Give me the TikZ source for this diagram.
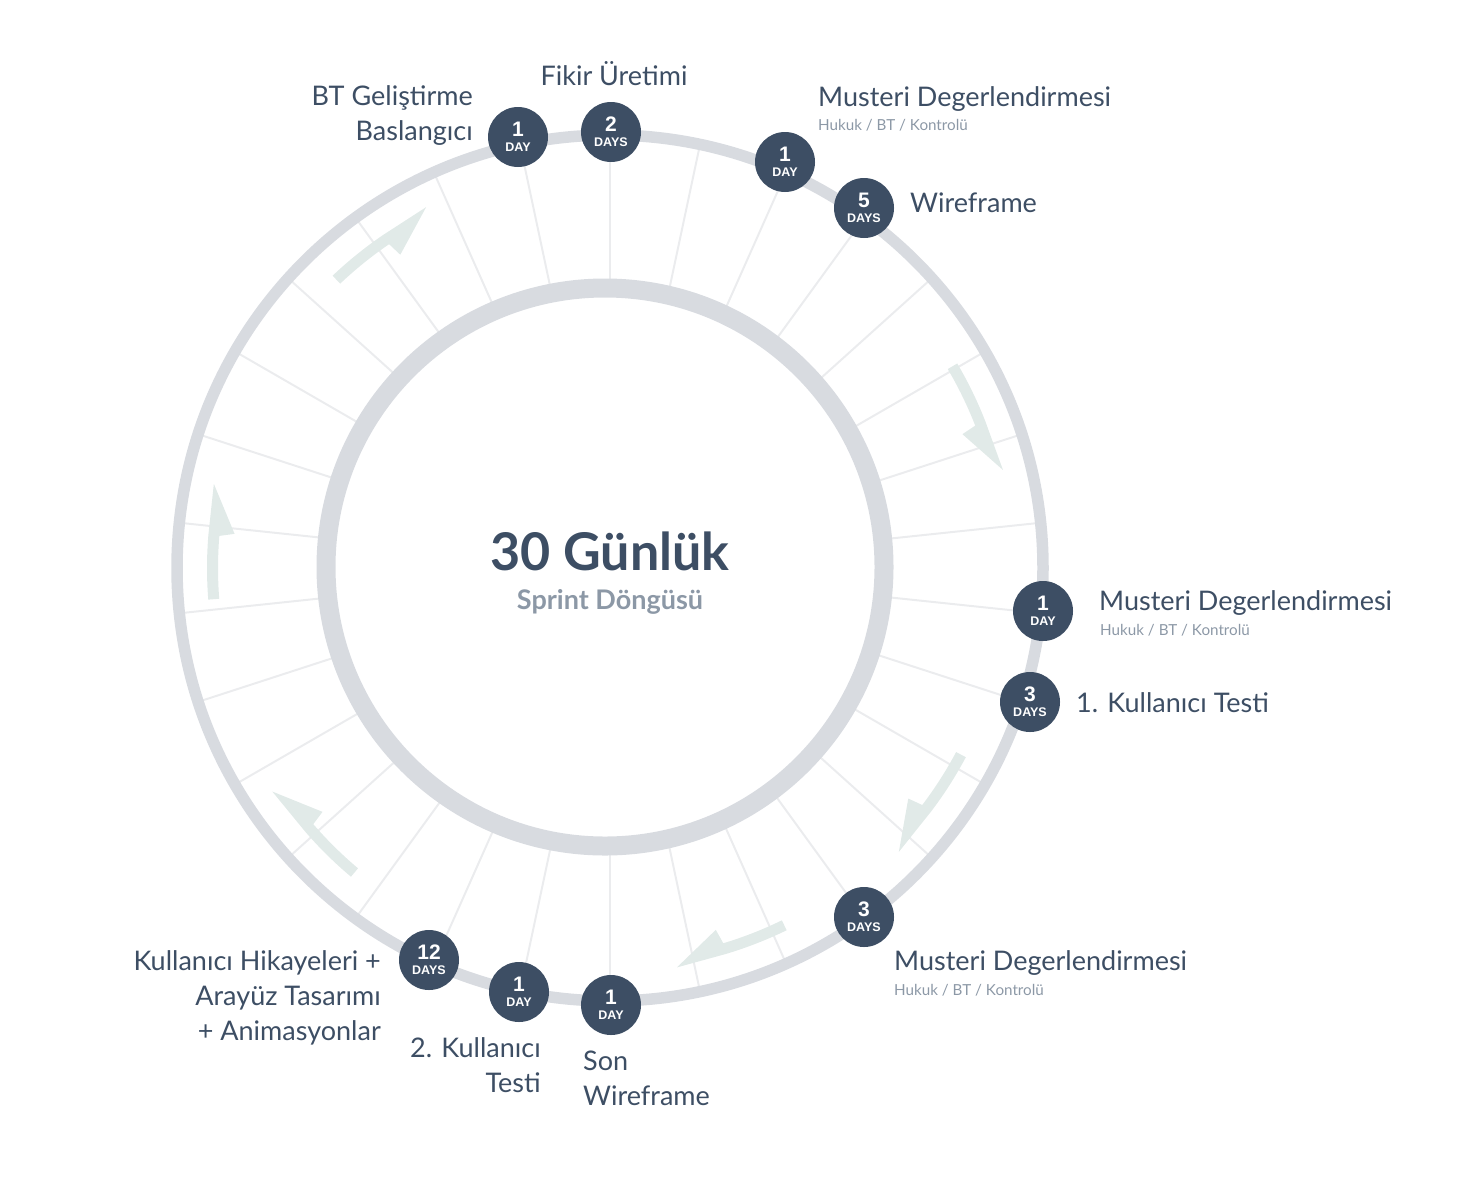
\documentclass[tikz,border=0pt]{standalone}
\usepackage{fontspec}
\setmainfont{Lato}
\newfontfamily\badgefont{Liberation Sans}
\begin{document}
\begin{tikzpicture}[yscale=-1, x=1pt, y=1pt, line join=round, line cap=round]
% colour definitions
\definecolor{navy}{HTML}{3D4E64}
\definecolor{ringgrey}{HTML}{D8DBE0}
\definecolor{spokegrey}{HTML}{EBECEE}
\definecolor{flowgreen}{HTML}{E1EAE8}
\definecolor{subgrey}{HTML}{8C98A6}
% end of colour definitions
\tikzset{
  badge/.style={circle, fill=navy, minimum size=60pt, inner sep=0pt, text=white, align=center,
    font=\badgefont\bfseries\fontsize{12.5}{15}\selectfont},
  phase/.style={text=navy, inner sep=0pt, font=\fontsize{27}{35}\selectfont},
  phasenote/.style={text=subgrey, inner sep=0pt, font=\fontsize{15.2}{18}\selectfont},
}
\useasboundingbox (0,0) rectangle (1463,1176);
\coordinate (hub) at (610,568);
% spokes and flow arrows, math angles round the hub
\begin{scope}[shift={(hub)}, yscale=-1]
\foreach \i in {0,...,29}
  \draw[spokegrey, line width=2pt] (90+12*\i:280) -- (90+12*\i:428);
\end{scope}
% rings
\draw[ringgrey, line width=11.5pt] (hub) circle [radius=433];
\draw[ringgrey, line width=19pt] (605,567) circle [radius=279];
\begin{scope}[shift={(hub)}, yscale=-1]
\foreach \s in {133.5, 30.5, -28, -64, -130, 184.5}
  \fill[flowgreen] (\s:392) arc[start angle=\s, end angle=\s-9.2, radius=392]
    -- (\s-9.7:377) -- (\s-16.5:405) -- (\s-9.2:403)
    arc[start angle=\s-9.2, end angle=\s, radius=403] -- cycle;
\end{scope}
% day badges
\node[badge] (btday) at (518,137) {{\fontsize{21}{15}\selectfont 1}\\DAY};
\node[badge] (ideaday) at (611,132) {{\fontsize{21}{15}\selectfont 2}\\DAYS};
\node[badge] (reviewaday) at (785,162) {{\fontsize{21}{15}\selectfont 1}\\DAY};
\node[badge] (wireday) at (864,208) {{\fontsize{21}{15}\selectfont 5}\\DAYS};
\node[badge] (reviewbday) at (1043,611) {{\fontsize{21}{15}\selectfont 1}\\DAY};
\node[badge] (testaday) at (1030,702) {{\fontsize{21}{15}\selectfont 3}\\DAYS};
\node[badge] (reviewcday) at (864,917) {{\fontsize{21}{15}\selectfont 3}\\DAYS};
\node[badge] (finalday) at (611,1005) {{\fontsize{21}{15}\selectfont 1}\\DAY};
\node[badge] (testbday) at (519,992) {{\fontsize{21}{15}\selectfont 1}\\DAY};
\node[badge] (storyday) at (429,960) {{\fontsize{21}{15}\selectfont 12}\\DAYS};
% phase labels (base of a wrapped label = its last line)
\node[phase, anchor=base east, align=right] (bttext) at (473,140) {BT Geliştirme\\Baslangıcı};
\node[phase, anchor=base] (ideatext) at (614,85) {Fikir Üretimi};
\node[phase, anchor=base west] (reviewatext) at (818,106) {Musteri Degerlendirmesi};
\node[phasenote, anchor=base west] (reviewanote) at (818,130) {Hukuk / BT / Kontrolü};
\node[phase, anchor=base west] (wiretext) at (910,212) {Wireframe};
\node[phase, anchor=base west] (reviewbtext) at (1099,610) {Musteri Degerlendirmesi};
\node[phasenote, anchor=base west] (reviewbnote) at (1100,635) {Hukuk / BT / Kontrolü};
\node[phase, anchor=base west] (testatext) at (1076,712) {1. Kullanıcı Testi};
\node[phase, anchor=base west] (reviewctext) at (894,970) {Musteri Degerlendirmesi};
\node[phasenote, anchor=base west] (reviewcnote) at (894,995) {Hukuk / BT / Kontrolü};
\node[phase, anchor=base west, align=left] (finaltext) at (583,1105) {Son\\Wireframe};
\node[phase, anchor=base east, align=right] (testbtext) at (541,1092) {2. Kullanıcı\\Testi};
\node[phase, anchor=base east, align=right] (storytext) at (381,1040) {Kullanıcı Hikayeleri +\\Arayüz Tasarımı\\+ Animasyonlar};
% centre title
\node[text=navy, inner sep=0pt, anchor=base, font=\bfseries\fontsize{52}{56}\selectfont] (title) at (610,570) {30 Günlük};
\node[text=subgrey, inner sep=0pt, anchor=base, font=\bfseries\fontsize{27}{30}\selectfont] (subtitle) at (610,609) {Sprint Döngüsü};
\end{tikzpicture}
\end{document}
